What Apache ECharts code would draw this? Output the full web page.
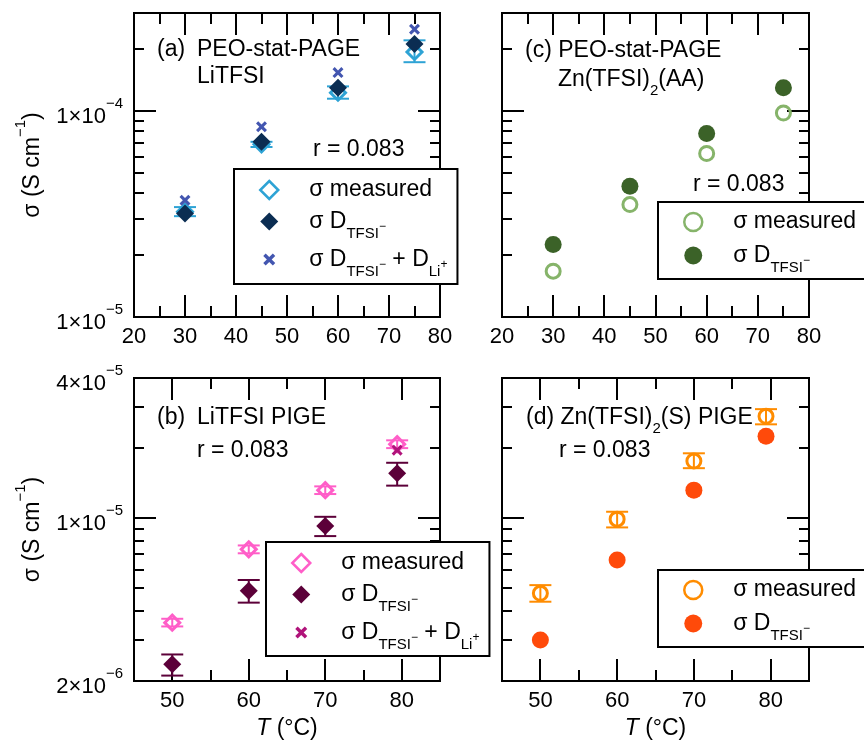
<!DOCTYPE html>
<html>
<head>
<meta charset="utf-8">
<script src="https://cdn.jsdelivr.net/npm/echarts@6/dist/echarts.min.js"></script>
<style>
  html, body { margin: 0; padding: 0; background: #fff; }
  #chart { width: 864px; height: 744px; }
</style>
</head>
<body>
<div id="chart"></div>
<script>
// ---- temperatures (°C) ----
const tempPEO = [30, 45, 60, 75];
const tempPIGE = [50, 60, 70, 79.4];

// ---- (a) PEO-stat-PAGE / LiTFSI, conductivity (S cm^-1) ----
const aMeasured     = [3.25e-5, 6.9e-5, 1.23e-4, 1.94e-4];
const aMeasuredLow  = [3.09e-5, 6.7e-5, 1.15e-4, 1.73e-4];
const aMeasuredHigh = [3.42e-5, 7.1e-5, 1.32e-4, 2.21e-4];
const aDTFSI        = [3.18e-5, 7.1e-5, 1.30e-4, 2.12e-4];
const aDTFSILi      = [3.69e-5, 8.4e-5, 1.54e-4, 2.50e-4];

// ---- (c) PEO-stat-PAGE / Zn(TFSI)2(AA) ----
const cMeasured = [1.67e-5, 3.52e-5, 6.23e-5, 9.8e-5];
const cDTFSI    = [2.25e-5, 4.32e-5, 7.79e-5, 1.30e-4];

// ---- (b) LiTFSI PIGE ----
const bMeasured     = [3.56e-6, 7.35e-6, 1.32e-5, 2.08e-5];
const bMeasuredLow  = [3.43e-6, 7.07e-6, 1.27e-5, 2.00e-5];
const bMeasuredHigh = [3.70e-6, 7.64e-6, 1.37e-5, 2.16e-5];
const bDTFSI        = [2.36e-6, 4.88e-6, 9.25e-6, 1.56e-5];
const bDTFSILow     = [2.11e-6, 4.34e-6, 8.38e-6, 1.38e-5];
const bDTFSIHigh    = [2.60e-6, 5.43e-6, 1.014e-5, 1.73e-5];
const bDTFSILi      = [null, null, null, 1.96e-5];

// ---- (d) Zn(TFSI)2(S) PIGE ----
const dMeasured     = [4.76e-6, 9.91e-6, 1.76e-5, 2.74e-5];
const dMeasuredLow  = [4.38e-6, 9.13e-6, 1.64e-5, 2.53e-5];
const dMeasuredHigh = [5.16e-6, 1.066e-5, 1.90e-5, 2.94e-5];
const dDTFSI        = [3.0e-6, 6.61e-6, 1.32e-5, 2.25e-5];

// ---- axis ranges and tick values ----
const peoTempRange = [20, 80];
const pigeTempRange = [45, 85];
const peoSigmaRange = [1e-5, 3e-4];
const pigeSigmaRange = [2e-6, 4e-5];
const peoTempTicks = [25, 30, 35, 40, 45, 50, 55, 60, 65, 70, 75];
const pigeTempTicks = [50, 55, 60, 65, 70, 75, 80];
const peoSigmaTicks = [2e-5, 3e-5, 4e-5, 5e-5, 6e-5, 7e-5, 8e-5, 9e-5, 1e-4, 2e-4];
const pigeSigmaTicks = [3e-6, 4e-6, 5e-6, 6e-6, 7e-6, 8e-6, 9e-6, 1e-5, 2e-5, 3e-5];

const FONT = "'Liberation Sans', Arial, Helvetica, sans-serif";

const COL = {
  aMeas: '#2ea3d5', aD: '#0b2d52', aLi: '#4356b0',
  cMeas: '#86b46a', cD: '#3b6228',
  bMeas: '#ff5ec8', bD: '#5c0039', bLi: '#b0137a',
  dMeas: '#ff8c00', dD: '#ff4a0a'
};

const crossPath = 'path://M2,0L5,3L8,0L10,2L7,5L10,8L8,10L5,7L2,10L0,8L3,5L0,2Z';
const crossLegendPath = 'path://M-2.5,-2.5M12.5,12.5M2,0L5,3L8,0L10,2L7,5L10,8L8,10L5,7L2,10L0,8L3,5L0,2Z';

const chart = echarts.init(document.getElementById('chart'), null, { renderer: 'canvas', width: 864, height: 744 });

function pairs(xs, ys) {
  const out = [];
  xs.forEach((x, i) => { if (ys[i] != null) out.push([x, ys[i]]); });
  return out;
}
function triples(xs, lo, hi) {
  return xs.map((x, i) => [x, lo[i], hi[i]]);
}

// tick marks on all four frame sides (inside), major ones longer
function tickData(temps, tempRef, sigmas, sigmaRef) {
  return temps.map(t => [t, sigmaRef, 0]).concat(sigmas.map(s => [tempRef, s, 1]));
}
function renderTicks(params, api) {
  const cs = params.coordSys;
  const v0 = api.value(0), v1 = api.value(1);
  const isY = api.value(2) === 1;
  const p = api.coord([v0, v1]);
  const style = { stroke: '#000', lineWidth: 2 };
  if (!isY) {
    const major = Math.abs(v0 / 10 - Math.round(v0 / 10)) < 1e-9;
    const len = major ? 22 : 11;
    const x = Math.round(p[0]);
    const yb = cs.y + cs.height, yt = cs.y;
    return { type: 'group', children: [
      { type: 'line', shape: { x1: x, y1: yb, x2: x, y2: yb - len }, style },
      { type: 'line', shape: { x1: x, y1: yt, x2: x, y2: yt + len }, style }
    ]};
  }
  const lg = Math.log10(v1);
  const major = Math.abs(lg - Math.round(lg)) < 1e-9;
  const len = major ? 22 : 10;
  const y = Math.round(p[1]);
  const xl = cs.x, xr = cs.x + cs.width;
  return { type: 'group', children: [
    { type: 'line', shape: { x1: xl, y1: y, x2: xl + len, y2: y }, style },
    { type: 'line', shape: { x1: xr, y1: y, x2: xr - len, y2: y }, style }
  ]};
}

function errorBars(color) {
  return function (params, api) {
    const x = api.value(0);
    const lo = api.coord([x, api.value(1)]);
    const hi = api.coord([x, api.value(2)]);
    const half = 11;
    const style = { stroke: color, lineWidth: 2, fill: null };
    return { type: 'group', children: [
      { type: 'line', shape: { x1: lo[0], y1: lo[1], x2: hi[0], y2: hi[1] }, style },
      { type: 'line', shape: { x1: lo[0] - half, y1: lo[1], x2: lo[0] + half, y2: lo[1] }, style },
      { type: 'line', shape: { x1: hi[0] - half, y1: hi[1], x2: hi[0] + half, y2: hi[1] }, style }
    ]};
  };
}

function sciLabel(v) {
  const e = Math.floor(Math.log10(v) + 1e-9);
  const m = Math.round(v / Math.pow(10, e));
  return '{m|' + m + '×10}{e|−' + (-e) + '}';
}
const sciRich = {
  m: { fontFamily: FONT, fontSize: 22, lineHeight: 26, color: '#000', padding: [11, 0, 0, 0] },
  e: { fontFamily: FONT, fontSize: 15, lineHeight: 15, color: '#000', padding: [0, 0, 14, 0] }
};

const grids = [
  { left: 134, top: 13, width: 306, height: 304 },   // (a)
  { left: 502, top: 13, width: 307, height: 304 },   // (c)
  { left: 134, top: 378, width: 306, height: 303 },  // (b)
  { left: 502, top: 378, width: 307, height: 303 }   // (d)
].map(g => Object.assign({ show: true, borderColor: '#000', borderWidth: 2, backgroundColor: 'transparent' }, g));

function xAxisFor(gridIndex, range, bottomRow) {
  const ax = {
    type: 'value', gridIndex, min: range[0], max: range[1],
    axisLine: { show: false }, axisTick: { show: false }, splitLine: { show: false },
    axisLabel: { fontFamily: FONT, fontSize: 22, color: '#000', margin: 9,
                 showMinLabel: !bottomRow, showMaxLabel: !bottomRow }
  };
  if (!bottomRow) ax.interval = 10;
  if (bottomRow) {
    ax.name = '{i|T} (°C)';
    ax.nameLocation = 'middle';
    ax.nameGap = 36;
    ax.nameTextStyle = { fontFamily: FONT, fontSize: 23, color: '#000',
      rich: { i: { fontFamily: FONT, fontSize: 23, fontStyle: 'italic', color: '#000' } } };
  }
  return ax;
}
function yAxisFor(gridIndex, range, withLabels, showMax) {
  const ax = {
    type: 'log', logBase: 10, gridIndex, min: range[0], max: range[1],
    axisLine: { show: false }, axisTick: { show: false }, splitLine: { show: false },
    axisLabel: { show: withLabels, formatter: sciLabel, rich: sciRich, margin: 11,
                 showMinLabel: true, showMaxLabel: showMax }
  };
  if (withLabels) {
    ax.name = '{t|σ (S cm}{s|−1}{t|)}';
    ax.nameLocation = 'middle';
    ax.nameGap = 88;
    ax.nameTextStyle = { fontFamily: FONT, fontSize: 23, color: '#000', rich: {
      t: { fontFamily: FONT, fontSize: 23, lineHeight: 26, color: '#000' },
      s: { fontFamily: FONT, fontSize: 15, lineHeight: 15, color: '#000', padding: [0, 0, 24, 0] }
    } };
  }
  return ax;
}

const legendText = {
  'a-meas': 'σ measured', 'a-d': 'σ D{sub|TFSI}{sup|−}', 'a-li': 'σ D{sub|TFSI}{sup|−} + D{sub|Li}{sup|+}',
  'c-meas': 'σ measured', 'c-d': 'σ D{sub|TFSI}{sup|−}',
  'b-meas': 'σ measured', 'b-d': 'σ D{sub|TFSI}{sup|−}', 'b-li': 'σ D{sub|TFSI}{sup|−} + D{sub|Li}{sup|+}',
  'd-meas': 'σ measured', 'd-d': 'σ D{sub|TFSI}{sup|−}'
};
const legendRich = {
  sub: { fontFamily: FONT, fontSize: 15, lineHeight: 15, color: '#000', padding: [24, 0, 0, 0] },
  sup: { fontFamily: FONT, fontSize: 12, lineHeight: 12, color: '#000', padding: [10, 0, 0, 0] }
};
// icon box is 18px square; left padding places its centre 34px inside the frame,
// text padding starts the label 74px inside it
function legendBox(left, top, items, padding, gap) {
  return {
    orient: 'vertical', left, top, data: items,
    formatter: name => legendText[name],
    itemWidth: 18, itemHeight: 18, itemGap: gap, padding,
    backgroundColor: '#fff', borderColor: '#000', borderWidth: 2, borderRadius: 0,
    selectedMode: false, symbolKeepAspect: true,
    textStyle: { fontFamily: FONT, fontSize: 23, color: '#000', lineHeight: 26,
                 padding: [0, 0, 0, 26], rich: legendRich }
  };
}

function hollow(name, symbol, size, color, xi, data) {
  return { type: 'scatter', name, xAxisIndex: xi, yAxisIndex: xi, symbol, symbolSize: size,
           itemStyle: { color: 'rgba(255,255,255,0)', borderColor: color, borderWidth: 3, opacity: 1 }, data, z: 3 };
}
function solid(name, symbol, size, color, xi, data) {
  return { type: 'scatter', name, xAxisIndex: xi, yAxisIndex: xi, symbol, symbolSize: size,
           itemStyle: { color, opacity: 1 }, data, z: 3 };
}
function bars(name, color, xi, data) {
  return { type: 'custom', name, xAxisIndex: xi, yAxisIndex: xi, renderItem: errorBars(color),
           data, silent: true, z: 3 };
}
function ticks(xi, data) {
  return { type: 'custom', xAxisIndex: xi, yAxisIndex: xi, renderItem: renderTicks, data, silent: true, z: 2 };
}

function label(x, y, text) {
  return { type: 'text', x, y, z: 10, silent: true,
    style: { text, fontFamily: FONT, fontSize: 23, fill: '#000', align: 'left', verticalAlign: 'middle',
      rich: { sub: { fontFamily: FONT, fontSize: 15, lineHeight: 15, fill: '#000', padding: [21, 0, 0, 0] } } } };
}

const option = {
  animation: false,
  backgroundColor: '#fff',
  textStyle: { fontFamily: FONT },
  grid: grids,
  xAxis: [
    xAxisFor(0, peoTempRange, false),
    xAxisFor(1, peoTempRange, false),
    xAxisFor(2, pigeTempRange, true),
    xAxisFor(3, pigeTempRange, true)
  ],
  yAxis: [
    yAxisFor(0, peoSigmaRange, true, false),
    yAxisFor(1, peoSigmaRange, false, false),
    yAxisFor(2, pigeSigmaRange, true, true),
    yAxisFor(3, pigeSigmaRange, false, false)
  ],
  legend: [
    legendBox(234, 169, [{ name: 'a-meas', itemStyle: { borderWidth: 2.5 } }, 'a-d', { name: 'a-li', icon: crossLegendPath }], [8, 10, 5, 25], -1),
    legendBox(658, 202, [{ name: 'c-meas', itemStyle: { borderWidth: 2.5 } }, 'c-d'], [7, 24, 4, 25], 1),
    legendBox(266, 542, [{ name: 'b-meas', itemStyle: { borderWidth: 2.5 } }, 'b-d', { name: 'b-li', icon: crossLegendPath }], [8, 10, 4, 25], -1),
    legendBox(658, 570, [{ name: 'd-meas', itemStyle: { borderWidth: 2.5 } }, 'd-d'], [7, 24, 4, 25], 1)
  ],
  graphic: [
    label(157, 50, '(a)'), label(197, 50, 'PEO-stat-PAGE'), label(197, 77, 'LiTFSI'), label(313, 150, 'r = 0.083'),
    label(525, 51, '(c) PEO-stat-PAGE'), label(558, 80, 'Zn(TFSI){sub|2}(AA)'), label(693, 185, 'r = 0.083'),
    label(157, 418, '(b)'), label(197, 418, 'LiTFSI PIGE'), label(197, 451, 'r = 0.083'),
    label(526, 418, '(d) Zn(TFSI){sub|2}(S) PIGE'), label(559, 451, 'r = 0.083')
  ],
  series: [
    // (a)
    ticks(0, tickData(peoTempTicks, peoSigmaRange[0], peoSigmaTicks, peoTempRange[0])),
    bars('a-meas-err', COL.aMeas, 0, triples(tempPEO, aMeasuredLow, aMeasuredHigh)),
    hollow('a-meas', 'diamond', 15, COL.aMeas, 0, pairs(tempPEO, aMeasured)),
    solid('a-d', 'diamond', 18, COL.aD, 0, pairs(tempPEO, aDTFSI)),
    solid('a-li', crossPath, 11, COL.aLi, 0, pairs(tempPEO, aDTFSILi)),
    // (c)
    ticks(1, tickData(peoTempTicks, peoSigmaRange[0], peoSigmaTicks, peoTempRange[0])),
    hollow('c-meas', 'circle', 14, COL.cMeas, 1, pairs(tempPEO, cMeasured)),
    solid('c-d', 'circle', 17, COL.cD, 1, pairs(tempPEO, cDTFSI)),
    // (b)
    ticks(2, tickData(pigeTempTicks, pigeSigmaRange[0], pigeSigmaTicks, pigeTempRange[0])),
    bars('b-meas-err', COL.bMeas, 2, triples(tempPIGE, bMeasuredLow, bMeasuredHigh)),
    hollow('b-meas', 'diamond', 15, COL.bMeas, 2, pairs(tempPIGE, bMeasured)),
    bars('b-d-err', COL.bD, 2, triples(tempPIGE, bDTFSILow, bDTFSIHigh)),
    solid('b-d', 'diamond', 18, COL.bD, 2, pairs(tempPIGE, bDTFSI)),
    solid('b-li', crossPath, 11, COL.bLi, 2, pairs(tempPIGE, bDTFSILi)),
    // (d)
    ticks(3, tickData(pigeTempTicks, pigeSigmaRange[0], pigeSigmaTicks, pigeTempRange[0])),
    bars('d-meas-err', COL.dMeas, 3, triples(tempPIGE, dMeasuredLow, dMeasuredHigh)),
    hollow('d-meas', 'circle', 14, COL.dMeas, 3, pairs(tempPIGE, dMeasured)),
    solid('d-d', 'circle', 17, COL.dD, 3, pairs(tempPIGE, dDTFSI))
  ]
};

chart.setOption(option);
</script>
</body>
</html>
